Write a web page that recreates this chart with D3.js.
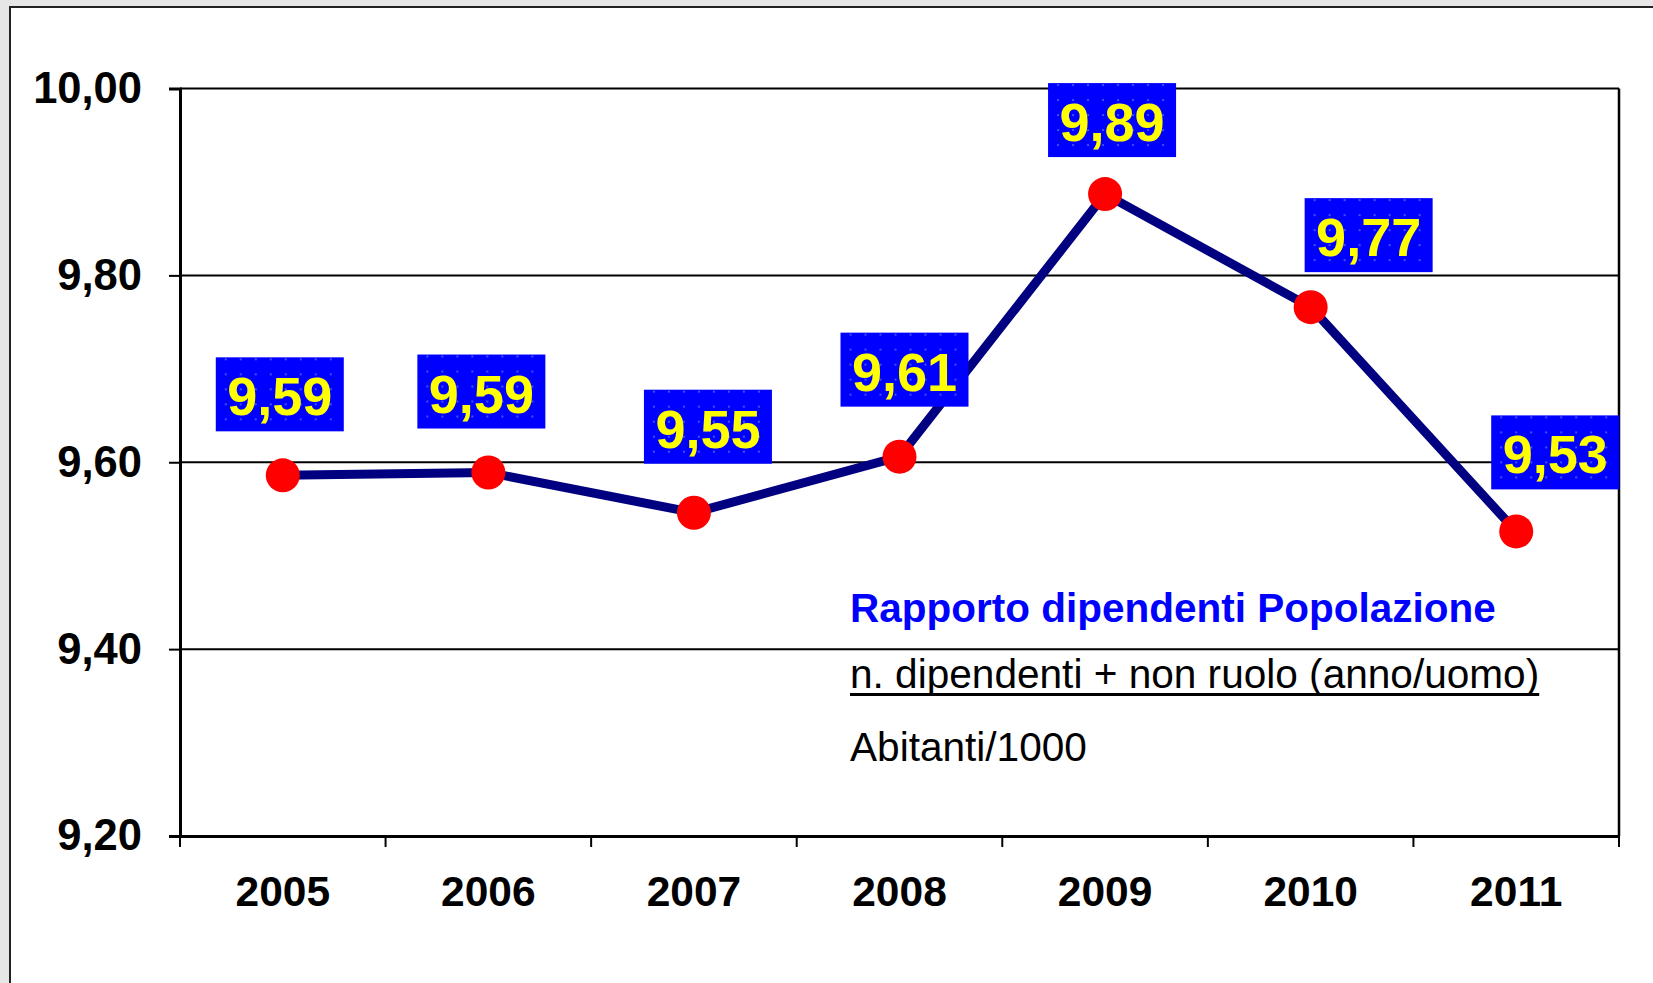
<!DOCTYPE html>
<html>
<head>
<meta charset="utf-8">
<script src="https://cdn.jsdelivr.net/npm/d3@7"></script>
<style>
    body { margin: 0; background: #e6e6e6; }
    svg { display: block; font-family: "Liberation Sans", Arial, sans-serif; }
</style>
</head>
<body>
<div class="graph_container"></div>
<script>
// data
const years = ["2005", "2006", "2007", "2008", "2009", "2010", "2011"];
const ratio = [9.586, 9.589, 9.546, 9.606, 9.887, 9.766, 9.526];
const yTicks = [9.2, 9.4, 9.6, 9.8, 10.0];
const legendLines = ["Rapporto dipendenti Popolazione", "n. dipendenti + non ruolo (anno/uomo)", "Abitanti/1000"];

// label box placement (dx from point, gap above point)
const labelDx = [-3, -7, 14, 5, 7, 58, 39];
const labelGap = [44, 44, 49, 50, 37, 35, 42];

const W = 1653, H = 983;
const plotLeft = 180, plotRight = 1619, plotTop = 88.5, plotBottom = 836;

const svg = d3.select(".graph_container").append("svg").attr("width", W).attr("height", H);

// outer frame
svg.append("rect").attr("x", 0).attr("y", 0).attr("width", W).attr("height", H).attr("fill", "#e6e6e6");
svg.append("rect").attr("x", 10).attr("y", 7).attr("width", W + 20).attr("height", H + 20)
    .attr("fill", "#fff").attr("stroke", "#222").attr("stroke-width", 2);

// dot pattern for label boxes
const defs = svg.append("defs");
const pat = defs.append("pattern").attr("id", "dots").attr("patternUnits", "userSpaceOnUse")
    .attr("width", 15).attr("height", 15);
pat.append("rect").attr("width", 15).attr("height", 15).attr("fill", "#0000ff");
pat.append("circle").attr("cx", 6).attr("cy", 3).attr("r", 1.1).attr("fill", "#4a64ff");

const x = d3.scaleBand().domain(years).range([plotLeft, plotRight]);
const y = d3.scaleLinear().domain([9.2, 10.0]).range([plotBottom, plotTop]);
const fmt = d3.formatLocale({ decimal: ",", thousands: ".", grouping: [3], currency: ["", "€"] }).format(".2f");

// gridlines
svg.append("g").selectAll("line").data(yTicks.slice(1)).join("line")
    .attr("x1", plotLeft).attr("x2", plotRight)
    .attr("y1", d => y(d)).attr("y2", d => y(d))
    .attr("stroke", "#000").attr("stroke-width", 2);

// right border
svg.append("line").attr("x1", plotRight).attr("x2", plotRight).attr("y1", plotTop).attr("y2", plotBottom)
    .attr("stroke", "#000").attr("stroke-width", 2.5);

// y axis
const yAxis = svg.append("g").attr("transform", `translate(${plotLeft},0)`)
    .call(d3.axisLeft(y).tickValues(yTicks).tickFormat(fmt).tickSize(11).tickPadding(27));
yAxis.select(".domain").attr("stroke", "#000").attr("stroke-width", 3);
yAxis.selectAll(".tick line").attr("stroke", "#000").attr("stroke-width", 2);
yAxis.selectAll("text").attr("font-size", 43.5).attr("font-weight", "bold").attr("fill", "#000")
    .attr("font-family", "'Liberation Sans', Arial, sans-serif");

// x axis
const xAxis = svg.append("g").attr("transform", `translate(0,${plotBottom})`)
    .call(d3.axisBottom(x).tickSize(0).tickPadding(40).tickSizeOuter(0));
xAxis.select(".domain").attr("stroke", "#000").attr("stroke-width", 3);
xAxis.selectAll("text").attr("font-size", 42.5).attr("font-weight", "bold").attr("fill", "#000")
    .attr("font-family", "'Liberation Sans', Arial, sans-serif");

// category boundary ticks
const bounds = years.map(d => x(d)).concat([x.range()[1]]);
svg.append("g").selectAll("line").data(bounds).join("line")
    .attr("x1", d => d).attr("x2", d => d)
    .attr("y1", plotBottom).attr("y2", plotBottom + 11)
    .attr("stroke", "#000").attr("stroke-width", 2);

// line
const cx = (d, i) => x(years[i]) + x.bandwidth() / 2;
svg.append("path").datum(ratio)
    .attr("d", d3.line().x(cx).y(d => y(d)))
    .attr("fill", "none").attr("stroke", "#000080").attr("stroke-width", 9)
    .attr("stroke-linejoin", "round");

svg.append("g").selectAll("circle").data(ratio).join("circle")
    .attr("cx", cx).attr("cy", d => y(d)).attr("r", 17).attr("fill", "#ff0000");

// value labels
const boxW = 128, boxH = 74;
const labels = svg.append("g").selectAll("g").data(ratio).join("g")
    .attr("transform", (d, i) => `translate(${cx(d, i) + labelDx[i]},${y(d) - labelGap[i]})`);
labels.append("rect").attr("x", -boxW / 2).attr("y", -boxH).attr("width", boxW).attr("height", boxH)
    .attr("fill", "url(#dots)");
labels.append("text").attr("text-anchor", "middle").attr("y", -16)
    .attr("font-size", 54).attr("font-weight", "bold").attr("fill", "#ffff00")
    .text(d => fmt(d));

// legend text
const lg = svg.append("g").attr("transform", "translate(850,0)");
lg.append("text").attr("y", 622).attr("font-size", 40.5).attr("font-weight", "bold").attr("fill", "#0000ff")
    .text(legendLines[0]);
const sub = lg.append("text").attr("y", 688).attr("font-size", 40.6).attr("fill", "#000").text(legendLines[1]);
const subW = sub.node().getComputedTextLength();
lg.append("line").attr("x1", 0).attr("x2", subW).attr("y1", 694.5).attr("y2", 694.5)
    .attr("stroke", "#000").attr("stroke-width", 3);
lg.append("text").attr("y", 761).attr("font-size", 40.6).attr("fill", "#000").text(legendLines[2]);
</script>
</body>
</html>
